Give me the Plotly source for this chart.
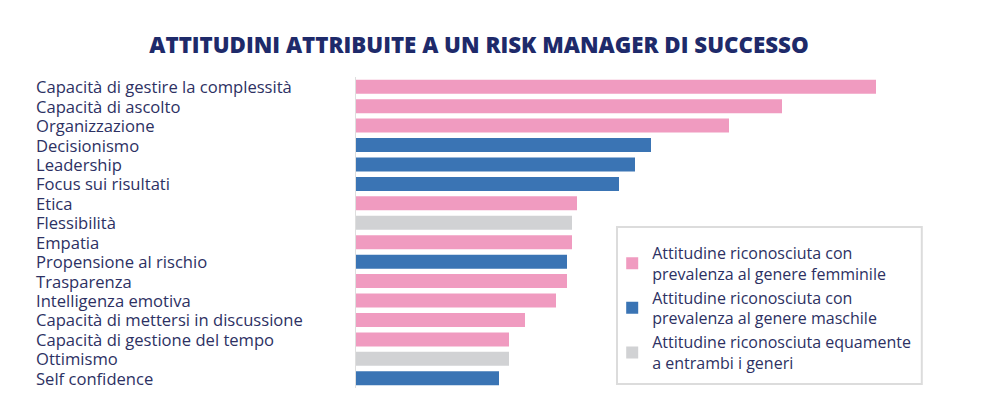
import plotly.graph_objects as go

categories = [
    "Capacità di gestire la complessità",
    "Capacità di ascolto",
    "Organizzazione",
    "Decisionismo",
    "Leadership",
    "Focus sui risultati",
    "Etica",
    "Flessibilità",
    "Empatia",
    "Propensione al rischio",
    "Trasparenza",
    "Intelligenza emotiva",
    "Capacità di mettersi in discussione",
    "Capacità di gestione del tempo",
    "Ottimismo",
    "Self confidence",
]
values = [52.0, 42.6, 37.3, 29.5, 27.9, 26.3, 22.1, 21.6, 21.6, 21.1, 21.1, 20.0, 16.9, 15.3, 15.3, 14.3]
groups = ["F", "F", "F", "M", "M", "M", "F", "E", "F", "M", "F", "F", "F", "F", "E", "M"]

group_names = {
    "F": "Attitudine riconosciuta con<br>prevalenza al genere femminile",
    "M": "Attitudine riconosciuta con<br>prevalenza al genere maschile",
    "E": "Attitudine riconosciuta equamente<br>a entrambi i generi",
}
group_colors = {"F": "#f09bc0", "M": "#3a74b4", "E": "#d1d2d4"}

text_color = "#2d3163"
title_color = "#1e2a6a"

fig = go.Figure()
for g in ["F", "M", "E"]:
    ys = [c for c, gg in zip(categories, groups) if gg == g]
    xs = [v for v, gg in zip(values, groups) if gg == g]
    fig.add_trace(go.Bar(
        x=xs, y=ys, orientation="h", name=group_names[g],
        marker=dict(color=group_colors[g], line=dict(width=0)),
        width=0.72, hoverinfo="x+y",
    ))

for c in categories:
    fig.add_annotation(
        x=-0.537, xref="paper", y=c, yref="y", text=c, showarrow=False,
        xanchor="left", yanchor="middle",
        font=dict(family="Open Sans", size=16.6, color=text_color),
    )

# legend frame
fig.add_shape(type="rect", xref="paper", yref="paper",
              x0=0.435, x1=0.943, y0=0.013, y1=0.518,
              line=dict(color="#dcdcdc", width=2), fillcolor="rgba(0,0,0,0)",
              layer="above")

fig.update_layout(
    width=1000, height=415,
    paper_bgcolor="white", plot_bgcolor="white",
    margin=dict(l=348, r=52, t=69, b=35),
    barmode="overlay",
    showlegend=True,
    title=dict(
        text="ATTITUDINI ATTRIBUITE A UN RISK MANAGER DI SUCCESSO",
        x=0.471, xanchor="center", y=0.911, yanchor="middle",
        font=dict(family="Open Sans", size=22.3, color=title_color, weight=800),
    ),
    legend=dict(
        x=0.427, y=0.489, xanchor="left", yanchor="top",
        borderwidth=0, bgcolor="rgba(0,0,0,0)",
        font=dict(family="Open Sans", size=16, color=text_color),
        traceorder="normal",
        itemwidth=30,
    ),
    xaxis=dict(range=[0, 60], showgrid=False, zeroline=False, showticklabels=False,
               showline=False, fixedrange=True),
    yaxis=dict(categoryorder="array", categoryarray=categories[::-1],
               range=[-0.5, len(categories) - 0.5],
               showgrid=False, zeroline=False, showticklabels=False,
               showline=True, linecolor="#dedede", linewidth=1, ticks=""),
)

fig.write_html("out.html")
